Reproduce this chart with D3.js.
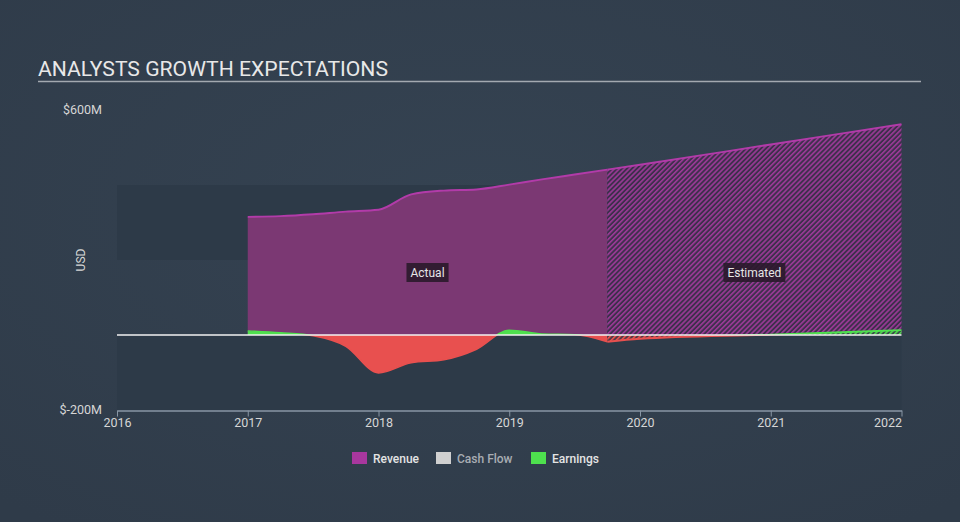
<!DOCTYPE html>
<html><head><meta charset="utf-8">
<script src="https://cdn.jsdelivr.net/npm/d3@7"></script>
<style>
html,body{margin:0;padding:0;background:#323f4e;}
svg{display:block;font-family:Roboto,"Open Sans",sans-serif;}
</style>
</head><body>
<svg id="c" width="960" height="522"></svg>
<script>
// ---- data ----
const xTickYears = [2016, 2017, 2018, 2019, 2020, 2021, 2022];
const yTickValues = [600, -200];
const yTickLabels = ["$600M", "$-200M"];
const bandRanges = [[200, 400], [-200, 0]];
const actualPeriods = [2017, 2017.25, 2017.5, 2017.75, 2018, 2018.25, 2018.5, 2018.75, 2019, 2019.25, 2019.5, 2019.75];
const actualRevenue = [315, 317, 322, 329, 334, 375, 385, 388, 401, 415, 428, 441];
const actualEarnings = [11, 6, -2, -30, -101, -74, -66, -38, 13, 3, 1, -18];
const estimatePeriods = [2019.75, 2020, 2021, 2022];
const estimateRevenue = [441, 454, 508, 562];
const estimateEarnings = [-18, -10, 1, 13];
const legendNames = ["Revenue", "Cash Flow", "Earnings"];
const legendColors = ["#a8379e", "#d0d0d0", "#4ee04e"];

// ---- setup ----
const svg = d3.select("#c");
const W = 960, H = 522;
const x = d3.scaleLinear().domain([2016, 2022]).range([117, 901.5]);
const y = d3.scaleLinear().domain([-200, 600]).range([410, 110]);
const y0 = y(0);

const defs = svg.append("defs");
const bg = defs.append("radialGradient").attr("id", "bg").attr("cx", "50%").attr("cy", "40%").attr("r", "75%");
bg.append("stop").attr("offset", "0%").attr("stop-color", "#354352");
bg.append("stop").attr("offset", "100%").attr("stop-color", "#2f3b49");
svg.append("rect").attr("width", W).attr("height", H).attr("fill", "url(#bg)");

function hatch(id, c1, c2) {
  const p = defs.append("pattern").attr("id", id).attr("patternUnits", "userSpaceOnUse")
    .attr("width", 3.5).attr("height", 3.5).attr("patternTransform", "rotate(45)");
  p.append("rect").attr("width", 3.5).attr("height", 3.5).attr("fill", c2);
  p.append("rect").attr("width", 1.6).attr("height", 3.5).attr("fill", c1);
}
hatch("hRev", "#9c3a98", "#3e2f4c");
hatch("hPos", "#4ee04e", "#3a4a4a");
hatch("hNeg", "#e8504f", "#4a3a44");

defs.append("clipPath").attr("id", "cPos").append("rect")
  .attr("x", 0).attr("y", 0).attr("width", W).attr("height", y0);
defs.append("clipPath").attr("id", "cNeg").append("rect")
  .attr("x", 0).attr("y", y0).attr("width", W).attr("height", H - y0);

// bands
svg.selectAll("rect.band").data(bandRanges).join("rect").attr("class", "band")
  .attr("x", x(2016)).attr("width", x(2022) - x(2016))
  .attr("y", d => y(d[1])).attr("height", d => y(d[0]) - y(d[1]))
  .attr("fill", "#2d3a48");

// title
svg.append("text").attr("x", 38).attr("y", 76).attr("fill", "#e8e8e8")
  .attr("font-size", 21).attr("textLength", 350).attr("lengthAdjust", "spacingAndGlyphs")
  .text("ANALYSTS GROWTH EXPECTATIONS");
svg.append("line").attr("x1", 38).attr("x2", 921).attr("y1", 81.5).attr("y2", 81.5)
  .attr("stroke", "#a3a9b0").attr("stroke-width", 1.5);

// revenue
const curve = d3.curveMonotoneX;
const revA = actualPeriods.map((p, i) => [p, actualRevenue[i]]);
const revE = estimatePeriods.map((p, i) => [p, estimateRevenue[i]]);
const earnA = actualPeriods.map((p, i) => [p, actualEarnings[i]]);
const earnE = estimatePeriods.map((p, i) => [p, estimateEarnings[i]]);
const area = d3.area().x(d => x(d[0])).y0(y0).y1(d => y(d[1])).curve(curve);
const line = d3.line().x(d => x(d[0])).y(d => y(d[1])).curve(curve);

svg.append("path").datum(revA).attr("d", area).attr("fill", "#7b3873");
svg.append("path").datum(revE).attr("d", area).attr("fill", "url(#hRev)");
svg.append("path").datum(revA).attr("d", line).attr("fill", "none").attr("stroke", "#b23ba9").attr("stroke-width", 2);
svg.append("path").datum(revE).attr("d", line).attr("fill", "none").attr("stroke", "#b23ba9").attr("stroke-width", 2);

// earnings
[["cPos", "#4ee04e", "url(#hPos)"], ["cNeg", "#e8504f", "url(#hNeg)"]].forEach(([clip, col, pat]) => {
  const g = svg.append("g").attr("clip-path", `url(#${clip})`);
  g.append("path").datum(earnA).attr("d", area).attr("fill", col);
  g.append("path").datum(earnE).attr("d", area).attr("fill", pat);
  g.append("path").datum(earnA).attr("d", line).attr("fill", "none").attr("stroke", col).attr("stroke-width", 1.5);
  g.append("path").datum(earnE).attr("d", line).attr("fill", "none").attr("stroke", col).attr("stroke-width", 2);
});

// zero line
svg.append("line").attr("x1", x(2016)).attr("x2", x(2022)).attr("y1", y0).attr("y2", y0)
  .attr("stroke", "#f2f2f2").attr("stroke-width", 1.5);

// Actual / Estimated labels
const tagData = [["Actual", (x(actualPeriods[0]) + x(actualPeriods[actualPeriods.length - 1])) / 2],
                 ["Estimated", (x(estimatePeriods[0]) + x(estimatePeriods[estimatePeriods.length - 1])) / 2]];
tagData.forEach(([t, cx]) => {
  const g = svg.append("g");
  const tx = g.append("text").attr("x", cx).attr("y", 276.5).attr("text-anchor", "middle")
    .attr("fill", "#e6e6e6").attr("font-size", 12).text(t);
  const w = tx.node().getComputedTextLength() + 8;
  g.insert("rect", "text").attr("x", cx - w / 2).attr("y", 263).attr("width", w).attr("height", 19)
    .attr("fill", "#2a1a2b").attr("opacity", 0.9);
});

// x axis
const xAxis = svg.append("g").attr("transform", `translate(0,${410.5})`)
  .call(d3.axisBottom(x).tickValues(xTickYears).tickFormat(d3.format("d")).tickSize(6).tickSizeOuter(0));
xAxis.select(".domain").attr("stroke", "#8896a5").attr("stroke-width", 1.5);
xAxis.selectAll(".tick line").attr("stroke", "#8896a5");
xAxis.selectAll(".tick text").attr("fill", "#d6d6d6").attr("font-size", 12.5).attr("font-family", "Roboto, sans-serif").attr("dy", "0.9em").attr("y", 5);
xAxis.selectAll(".tick text").filter(d => d === 2022).attr("text-anchor", "end");

// y labels
svg.selectAll("text.ylab").data(yTickValues).join("text").attr("class", "ylab")
  .attr("x", 102).attr("y", d => y(d)).attr("dy", "0.3em").attr("text-anchor", "end")
  .attr("fill", "#d6d6d6").attr("font-size", 12.5).text((d, i) => yTickLabels[i]);
svg.append("text").attr("transform", `translate(85,${260}) rotate(-90)`).attr("text-anchor", "middle")
  .attr("fill", "#d6d6d6").attr("font-size", 12).text("USD");

// legend
const legX = [352, 436, 531];
legendNames.forEach((n, i) => {
  svg.append("rect").attr("x", legX[i]).attr("y", 452).attr("width", 15).attr("height", 12).attr("fill", legendColors[i]);
  svg.append("text").attr("x", legX[i] + 21).attr("y", 462.5).attr("font-size", 12).attr("font-weight", 500)
    .attr("fill", n === "Cash Flow" ? "#a9adb3" : "#e4e4e4").text(n);
});
</script>
</body></html>
